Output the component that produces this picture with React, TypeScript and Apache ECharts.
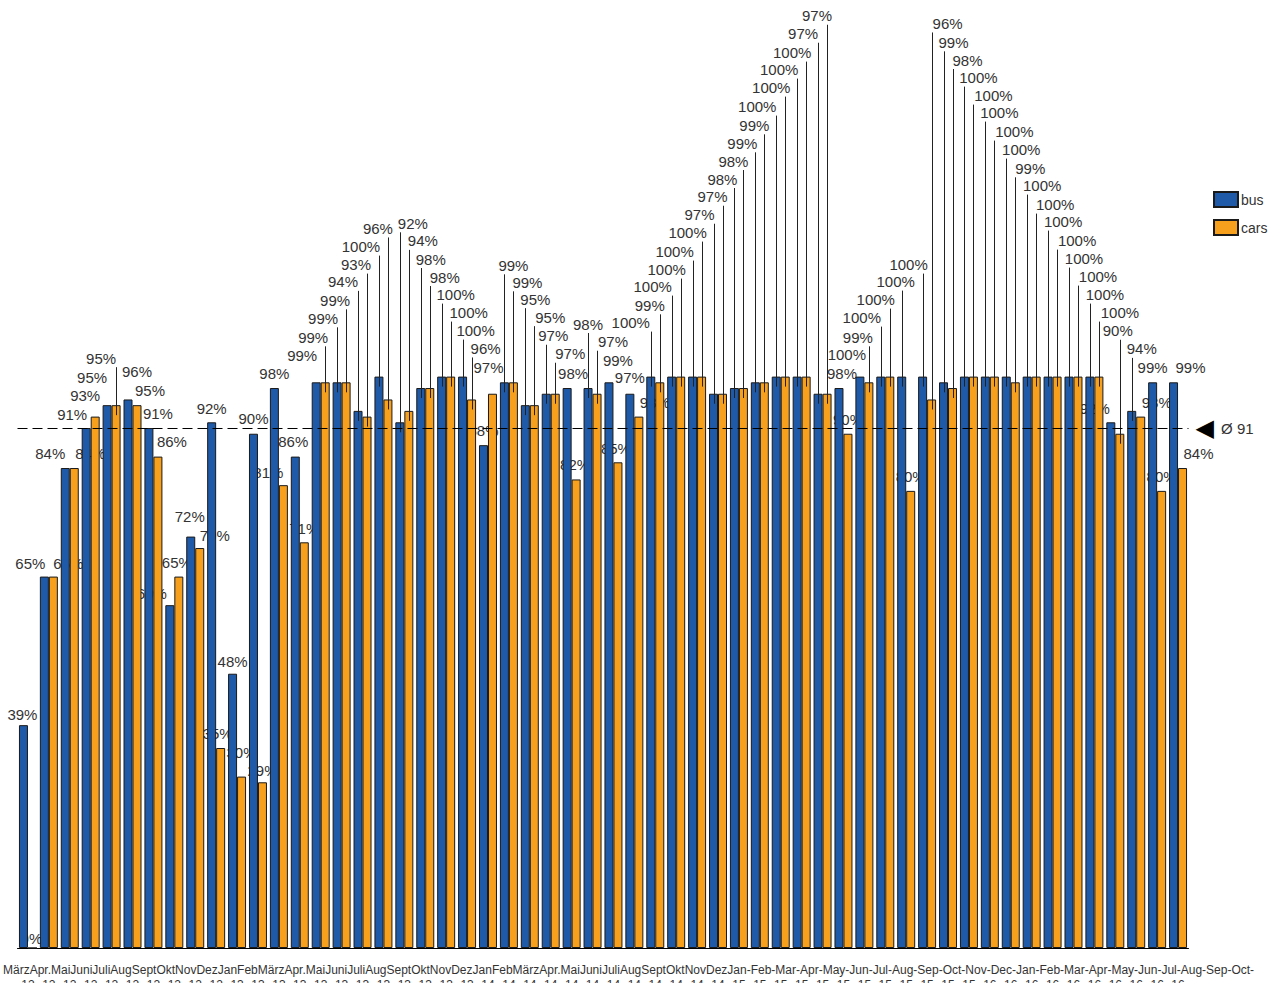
import React, { useEffect, useRef } from "react";
import * as echarts from "echarts";

// ---- tick labels ----
const monthLabels = [
  "März", "Apr.", "Mai", "Juni", "Juli", "Aug", "Sept", "Okt", "Nov", "Dez", "Jan", "Feb",
  "März", "Apr.", "Mai", "Juni", "Juli", "Aug", "Sept", "Okt", "Nov", "Dez", "Jan", "Feb",
  "März", "Apr.", "Mai", "Juni", "Juli", "Aug", "Sept", "Okt", "Nov", "Dez",
  "Jan-", "Feb-", "Mar-", "Apr-", "May-", "Jun-", "Jul-", "Aug-", "Sep-", "Oct-", "Nov-", "Dec-",
  "Jan-", "Feb-", "Mar-", "Apr-", "May-", "Jun-", "Jul-", "Aug-", "Sep-", "Oct-",
];
const yearLabels = [
  "12", "12", "12", "12", "12", "12", "12", "12", "12", "12", "13", "13",
  "13", "13", "13", "13", "13", "13", "13", "13", "13", "13", "14", "14",
  "14", "14", "14", "14", "14", "14", "14", "14", "14", "14",
  "15", "15", "15", "15", "15", "15", "15", "15", "15", "15", "15", "15",
  "16", "16", "16", "16", "16", "16", "16", "16", "16", "16",
];

// ---- series values (%) ----
const bus = [
  39, 65, 84, 91, 95, 96, 91, 60, 72, 92,
  48, 90, 98, 86, 99, 99, 94, 100, 92, 98,
  100, 100, 88, 99, 95, 97, 98, 98, 99, 97,
  100, 100, 100, 97, 98, 99, 100, 100, 97, 98,
  100, 100, 100, 100, 99, 100, 100, 100, 100, 100,
  100, 100, 92, 94, 99, 99,
];
const cars = [
  0, 65, 84, 93, 95, 95, 86, 65, 70, 35,
  30, 29, 81, 71, 99, 99, 93, 96, 94, 98,
  100, 96, 97, 99, 95, 97, 82, 97, 85, 93,
  99, 100, 100, 97, 98, 99, 100, 100, 97, 90,
  99, 100, 80, 96, 98, 100, 100, 99, 100, 100,
  100, 100, 90, 93, 80, 84,
];

// ---- value-label placement (pixel offsets from each bar's top centre) ----
const busLabelDx = [
  -1, -14, -15, -14, -15, 9, 9, -18, -1, 0,
  0, 0, 0, -2, -14, -14, -15, -18, 13, 10,
  14, 13, 0, 9, 10, 7, 6, 0, 9, 0,
  -20, -19, -18, -14, -12, -13, -19, -18, -15, 3,
  -13, -19, -6, -14, 10, 14, 14, 15, 15, 15,
  15, 15, -16, 10, 0, 17,
];
const busLabelDy = [
  -11, -13, -15, -14, -28, -28, -15, -12, -20, -14,
  -12, -15, -15, -15, -27, -64, -129, -130, -199, -129,
  -82, -46, -15, -117, -106, -58, -15, -64, -22, -16,
  -54, -90, -125, -179, -209, -239, -270, -307, -360, -15,
  -22, -59, -95, -112, -340, -299, -264, -227, -191, -155,
  -118, -82, -14, -62, -15, -15,
];
const carsLabelDx = [
  -1, 15, 16, -10, -15, 13, 14, -2, 15, -3,
  0, 0, -15, 0, -12, -11, -11, -10, 14, 15,
  18, 14, -4, 14, 16, 15, -1, 16, -2, 16,
  -10, -14, -14, -10, -10, -10, -14, -14, -10, 0,
  -11, -14, 0, 16, 15, 20, 20, 15, 19, 20,
  20, 21, -2, 16, 0, 16,
];
const carsLabelDy = [
  -10, -13, -15, -21, -47, -15, -15, -14, -13, -15,
  -24, -12, -13, -14, -45, -82, -152, -171, -170, -111,
  -64, -51, -26, -100, -88, -40, -15, -52, -14, -14,
  -77, -107, -144, -197, -227, -257, -289, -324, -378, -14,
  -45, -77, -14, -376, -328, -281, -245, -214, -172, -136,
  -100, -64, -103, -14, -14, -15,
];

const BUS_COLOR = "#1f5aa8";
const CARS_COLOR = "#f6a01e";
const FONT = 'Arial, "Liberation Sans", sans-serif';
const CATEGORY_GAP = 0.14;

export default function App() {
  const ref = useRef<HTMLDivElement>(null);

  useEffect(() => {
    document.body.style.margin = "0";
    document.body.style.overflow = "hidden";
    const chart = echarts.init(ref.current!, null, { renderer: "svg" });

    const all = bus.concat(cars);
    const avg = Math.round(all.reduce((a, b) => a + b, 0) / all.length);

    const labelData: number[][] = [];
    const leaderData: number[][] = [];
    for (let i = 0; i < bus.length; i++) {
      labelData.push([i, bus[i], busLabelDx[i], busLabelDy[i], 0]);
      labelData.push([i, cars[i], carsLabelDx[i], carsLabelDy[i], 1]);
      if (busLabelDy[i] < -34) leaderData.push([i, bus[i], busLabelDy[i], 0]);
      if (carsLabelDy[i] < -34) leaderData.push([i, cars[i], carsLabelDy[i], 1]);
    }

    const barOffset = (api: any, s: number) => {
      const bw = api.size([1, 0])[0];
      return (s === 0 ? -1 : 1) * (bw * (1 - CATEGORY_GAP)) / 4;
    };

    // month texts laid side by side (as in the reference's crowded axis)
    const ctx = document.createElement("canvas").getContext("2d")!;
    ctx.font = `12px ${FONT}`;
    let mx = 3;
    const monthTexts: any[] = monthLabels.map((m) => {
      const el = {
        type: "text",
        x: mx,
        y: 970,
        silent: true,
        style: { text: m, font: `12px ${FONT}`, fill: "#333", align: "left", verticalAlign: "middle" },
      };
      mx += ctx.measureText(m).width;
      return el;
    });

    const option: any = {
      animation: false,
      backgroundColor: "#fff",
      grid: {
        left: 17.5,
        width: 1171,
        top: 376.6,
        height: 571.4,
        containLabel: false,
        outerBoundsMode: "none",
      },
      legend: {
        orient: "vertical",
        left: 1213,
        top: 191,
        padding: 0,
        itemWidth: 24,
        itemHeight: 15,
        itemGap: 11,
        icon: "rect",
        data: ["bus", "cars"],
        textStyle: { fontSize: 14, color: "#333", fontFamily: FONT, padding: [0, 0, 0, -2] },
      },
      xAxis: {
        type: "category",
        data: monthLabels.map((m, i) => m + yearLabels[i]),
        axisLine: { lineStyle: { color: "#000", width: 1 } },
        axisTick: { show: false },
        axisLabel: {
          interval: 0,
          margin: 31,
          fontSize: 12,
          color: "#333",
          fontFamily: FONT,
          formatter: (_v: string, i: number) => yearLabels[i],
        },
      },
      yAxis: { type: "value", min: 0, max: 100, show: false },
      series: [
        {
          name: "bus",
          type: "bar",
          data: bus,
          barGap: "0%",
          barCategoryGap: "14%",
          z: 2,
          itemStyle: { color: BUS_COLOR, borderColor: "#1a1a1a", borderWidth: 1 },
        },
        {
          name: "cars",
          type: "bar",
          data: cars,
          barGap: "0%",
          barCategoryGap: "14%",
          z: 2,
          itemStyle: { color: CARS_COLOR, borderColor: "#1a1a1a", borderWidth: 1 },
        },
        {
          name: "valueLabels",
          type: "custom",
          z: 1,
          silent: true,
          encode: { x: 0, y: 1 },
          data: labelData,
          renderItem: (_p: any, api: any) => {
            const i = api.value(0);
            const v = api.value(1);
            const s = api.value(4);
            const pt = api.coord([i, v]);
            const cx = pt[0] + barOffset(api, s);
            return {
              type: "text",
              style: {
                text: v + "%",
                x: cx + api.value(2),
                y: pt[1] + api.value(3),
                align: "center",
                verticalAlign: "middle",
                font: `15px ${FONT}`,
                fill: "#333",
              },
            };
          },
        },
        {
          name: "leaders",
          type: "custom",
          z: 3,
          silent: true,
          encode: { x: 0, y: 1 },
          data: leaderData,
          renderItem: (_p: any, api: any) => {
            const i = api.value(0);
            const v = api.value(1);
            const s = api.value(3);
            const pt = api.coord([i, v]);
            const cx = Math.round(pt[0] + barOffset(api, s)) + 0.5;
            return {
              type: "line",
              shape: { x1: cx, y1: pt[1] + api.value(2) + 9, x2: cx, y2: pt[1] + 10 },
              style: { stroke: "#222", lineWidth: 1 },
            };
          },
        },
        {
          name: "average",
          type: "line",
          data: [],
          z: 1,
          silent: true,
          markLine: {
            silent: true,
            symbol: ["none", "none"],
            lineStyle: { color: "#000", type: [10, 5], width: 1 },
            label: {
              show: true,
              position: "end",
              distance: 7,
              formatter: "{t|◀}{s| Ø " + avg + "}",
              rich: {
                t: { fontSize: 24, fontFamily: "DejaVu Sans", color: "#000" },
                s: { fontSize: 15, fontFamily: FONT, color: "#333", padding: [0, 0, 0, 3] },
              },
            },
            data: [{ yAxis: avg }],
          },
        },
      ],
      graphic: monthTexts,
    };

    chart.setOption(option);
    return () => chart.dispose();
  }, []);

  return <div ref={ref} style={{ width: 1279, height: 983 }} />;
}
